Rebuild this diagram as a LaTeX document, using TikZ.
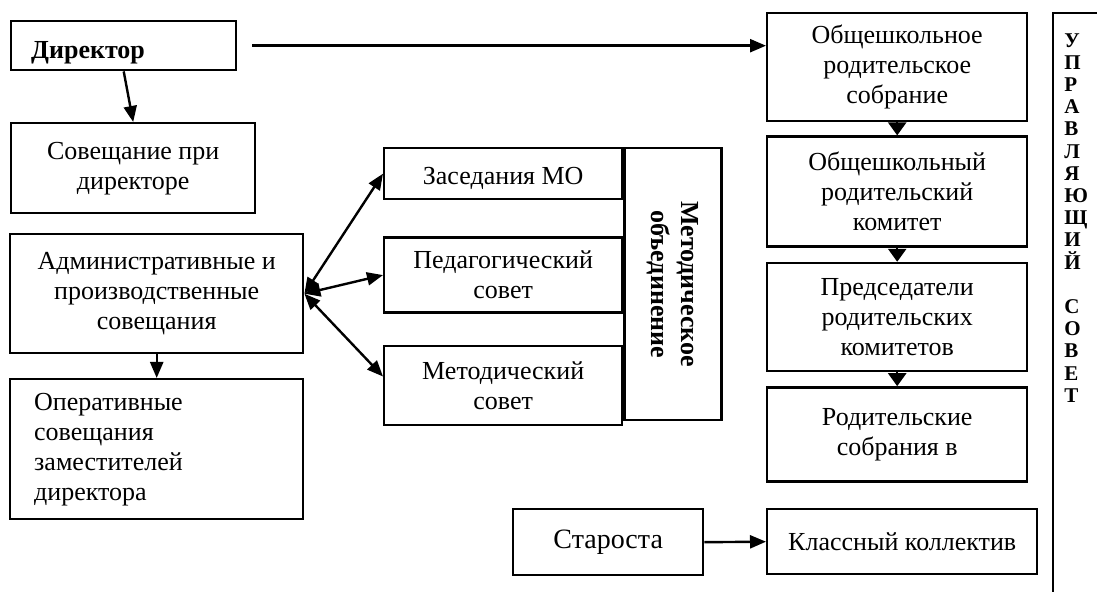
\documentclass[tikz,border=0pt]{standalone}
\usepackage{fontspec}
\setmainfont{Liberation Serif}
\usetikzlibrary{arrows.meta,positioning,calc}
\newcommand{\tightlines}{\lineskiplimit=-20pt\relax}
\tikzset{
  box/.style={draw, line width=1.2pt, inner sep=0pt, align=center, anchor=north west, font=\fontsize{13}{15}\selectfont},
  lbox/.style={box, align=left},
  vlab/.style={font=\fontsize{13}{15}\selectfont\bfseries, align=center, rotate=-90},
  letters/.style={font=\fontsize{10.5}{11.1}\selectfont\bfseries\tightlines, align=left, anchor=north west, inner sep=0pt},
  arrow/.style={-{Triangle[length=8pt,width=6.5pt]}, line width=1.2pt},
  darrow/.style={{Triangle[length=8pt,width=6.5pt]}-{Triangle[length=8pt,width=6.5pt]}, line width=1.2pt},
  sarrow/.style={-{Triangle[length=6.5pt,width=9pt]}, line width=1.2pt},
}

\begin{document}
\begin{tikzpicture}[x=0.5pt,y=-0.5pt]
\useasboundingbox (0,0) rectangle (1097,592);
\clip (0,0) rectangle (1097,592);
% left column
\node[lbox, minimum width=112.5pt, minimum height=24.5pt, text width=92.5pt, inner xsep=10pt, text height=13pt, text depth=0pt, font=\fontsize{13}{14}\selectfont\bfseries] (dir) at (10,20) {Директор};
\node[box, minimum width=122pt, minimum height=45pt] (sov) at (10,122) {Совещание при\\директоре};
\node[box, minimum width=146.5pt, minimum height=59.5pt] (adm) at (9,233) {Административные и\\производственные\\совещания};
\node[lbox, minimum width=146.5pt, minimum height=70pt, text width=122.5pt, inner xsep=12pt] (oper) at (9,378) {Оперативные\\совещания\\заместителей\\директора};
% methodical block
\node[box, minimum width=119pt, minimum height=25.5pt, text height=10.5pt, text depth=0pt] (zas) at (383,147) {Заседания МО};
\node[box, minimum width=119pt, minimum height=37.5pt, below=18pt of zas] (ped) {Педагогический\\совет};
\node[box, minimum width=119pt, minimum height=39.5pt, below=15.5pt of ped] (met) {Методический\\совет};
\node[box, minimum width=48.5pt, minimum height=136pt] (mo) at (zas.north east) {};
\node[vlab] (motext) at (mo.center) {Методическое\\объединение};
% parents column
\node[box, minimum width=130pt, minimum height=54pt] (osob) at (766,12) {Общешкольное\\родительское\\собрание};
\node[box, minimum width=130pt, minimum height=55pt, below=6.5pt of osob] (oskom) {Общешкольный\\родительский\\комитет};
\node[box, minimum width=130pt, minimum height=54pt, below=7pt of oskom] (pred) {Председатели\\родительских\\комитетов};
\node[box, minimum width=130pt, minimum height=47pt, below=7pt of pred] (rsob) {Родительские\\собрания в};
\node[box, minimum width=135pt, minimum height=32.5pt] (klass) at (766,508) {Классный коллектив};
\node[box, minimum width=95pt, minimum height=33pt, font=\fontsize{14}{16}\selectfont] (star) at (512,508) {Староста};
% governing council
\node[box, minimum width=60pt, minimum height=320pt] (us) at (1052,12) {};
\node[letters] (ustext) at (1064,33) {У\\П\\Р\\А\\В\\Л\\Я\\Ю\\Щ\\И\\Й\\[11.1pt]С\\О\\В\\Е\\Т};
% connectors
\draw[arrow] (dir.south) -- (sov.north);
\draw[arrow, shorten <=7.5pt] (dir.east) -- (dir.east -| osob.west);
\draw[arrow] (adm.south) -- (oper.north);
\draw[darrow] (adm.east) -- (zas.west);
\draw[darrow] (adm.east) -- (ped.west);
\draw[darrow] (adm.east) -- ([yshift=4.5pt]met.west);
\draw[sarrow] (osob.south) -- (oskom.north);
\draw[sarrow] (oskom.south) -- (pred.north);
\draw[sarrow] (pred.south) -- (rsob.north);
\draw[arrow] (star.east) -- (klass.west);
\end{tikzpicture}
\end{document}
